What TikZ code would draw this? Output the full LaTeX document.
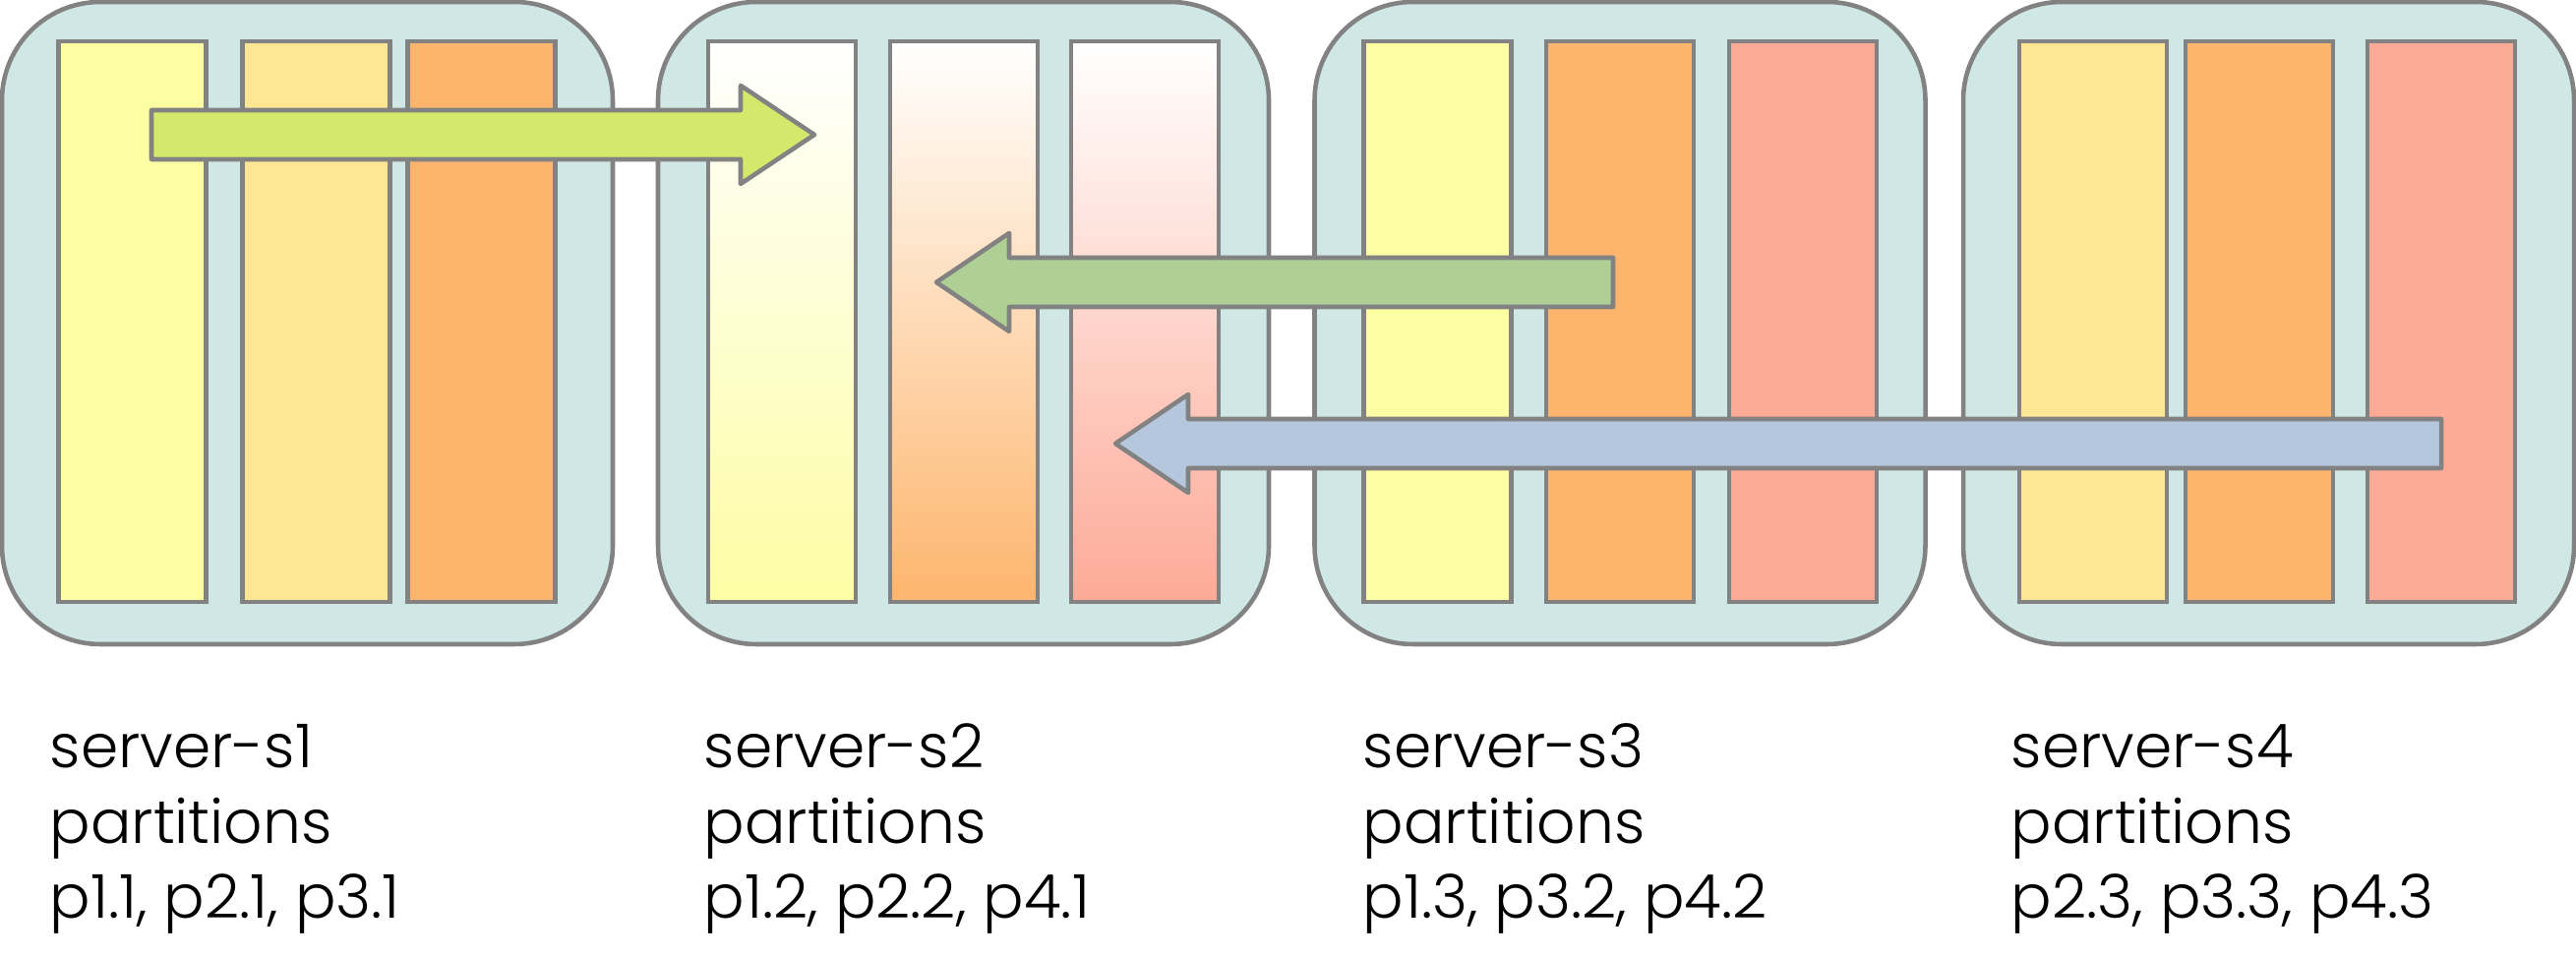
\documentclass[tikz,border=0pt]{standalone}
\usepackage{fontspec}
\setmainfont{Poppins Light}
\usepackage{tikz}
\usetikzlibrary{calc}
\pgfdeclarelayer{boxlayer}
\pgfdeclarelayer{arrowlayer}
\pgfsetlayers{boxlayer,main,arrowlayer}
\definecolor{boxteal}{HTML}{D0E8E5}
\definecolor{edgegray}{HTML}{828282}
\definecolor{pyellow}{HTML}{FDFDA4}
\definecolor{plight}{HTML}{FDE795}
\definecolor{porange}{HTML}{FDB56D}
\definecolor{psalmon}{HTML}{FDAA97}
\definecolor{arrowlime}{HTML}{D4E96C}
\definecolor{arrowsage}{HTML}{AFD095}
\definecolor{arrowblue}{HTML}{B4C7DC}
\tikzstyle{server}=[draw=edgegray, line width=1.3pt, fill=boxteal, rounded corners=1cm, minimum width=6.21cm, minimum height=6.53cm, inner sep=0pt]
\tikzstyle{part}=[draw=edgegray, line width=1.3pt, minimum width=1.5cm, minimum height=5.7cm, inner sep=0pt]
\tikzstyle{fade}=[part, top color=white, middle color=white!70!#1, bottom color=#1, shading angle=0]
\tikzstyle{bigarrow}=[draw=edgegray, line width=1.3pt, line join=round]
\tikzstyle{caption}=[anchor=base west, align=left, inner sep=0pt, font=\fontsize{17.5}{21.8}\selectfont]

\begin{document}
\begin{tikzpicture}
				\useasboundingbox (0,0) rectangle (26.19,9.74);
				\begin{pgfonlayer}{boxlayer}
					\node [style=server] (s1) at (3.125, 6.455) {};
					\node [style=server] (s2) at (9.795, 6.455) {};
					\node [style=server] (s3) at (16.47, 6.455) {};
					\node [style=server] (s4) at (23.065, 6.455) {};
				\end{pgfonlayer}
				% server-s1
				\node [style=part, fill=pyellow] (p11) at (1.345, 6.47) {};
				\node [style=part, fill=plight] (p21) at (3.215, 6.47) {};
				\node [style=part, fill=porange] (p31) at (4.895, 6.47) {};
				% server-s2
				\node [fade=pyellow] (p12) at (7.95, 6.47) {};
				\node [fade=porange] (p22) at (9.80, 6.47) {};
				\node [fade=psalmon] (p41) at (11.64, 6.47) {};
				% server-s3
				\node [style=part, fill=pyellow] (p13) at (14.615, 6.47) {};
				\node [style=part, fill=porange] (p32) at (16.47, 6.47) {};
				\node [style=part, fill=psalmon] (p42) at (18.33, 6.47) {};
				% server-s4
				\node [style=part, fill=plight] (p23) at (21.28, 6.47) {};
				\node [style=part, fill=porange] (p33) at (22.97, 6.47) {};
				\node [style=part, fill=psalmon] (p43) at (24.82, 6.47) {};
				\node [style=caption] (c1) at (0.50, 0.40) {server-s1\\partitions\\p1.1, p2.1, p3.1};
				\node [style=caption] (c2) at (7.15, 0.40) {server-s2\\partitions\\p1.2, p2.2, p4.1};
				\node [style=caption] (c3) at (13.85, 0.40) {server-s3\\partitions\\p1.3, p3.2, p4.2};
				\node [style=caption] (c4) at (20.44, 0.40) {server-s4\\partitions\\p2.3, p3.3, p4.3};
				\begin{pgfonlayer}{arrowlayer}
					\coordinate (a1) at (1.54, 8.37);
					\coordinate (b1) at (8.28, 8.37);
					\coordinate (a2) at (16.40, 6.87);
					\coordinate (b2) at (9.52, 6.87);
					\coordinate (a3) at (24.82, 5.23);
					\coordinate (b3) at (11.34, 5.23);
					\draw [style=bigarrow, fill=arrowlime] ($(a1)+(0,0.25)$) -- ($(b1)+(-0.75,0.25)$) -- ($(b1)+(-0.75,0.5)$) -- (b1) -- ($(b1)+(-0.75,-0.5)$) -- ($(b1)+(-0.75,-0.25)$) -- ($(a1)+(0,-0.25)$) -- cycle;
					\draw [style=bigarrow, fill=arrowsage] ($(a2)+(0,0.25)$) -- ($(b2)+(0.74,0.25)$) -- ($(b2)+(0.74,0.5)$) -- (b2) -- ($(b2)+(0.74,-0.5)$) -- ($(b2)+(0.74,-0.25)$) -- ($(a2)+(0,-0.25)$) -- cycle;
					\draw [style=bigarrow, fill=arrowblue] ($(a3)+(0,0.25)$) -- ($(b3)+(0.74,0.25)$) -- ($(b3)+(0.74,0.5)$) -- (b3) -- ($(b3)+(0.74,-0.5)$) -- ($(b3)+(0.74,-0.25)$) -- ($(a3)+(0,-0.25)$) -- cycle;
				\end{pgfonlayer}
			\end{tikzpicture}
\end{document}
